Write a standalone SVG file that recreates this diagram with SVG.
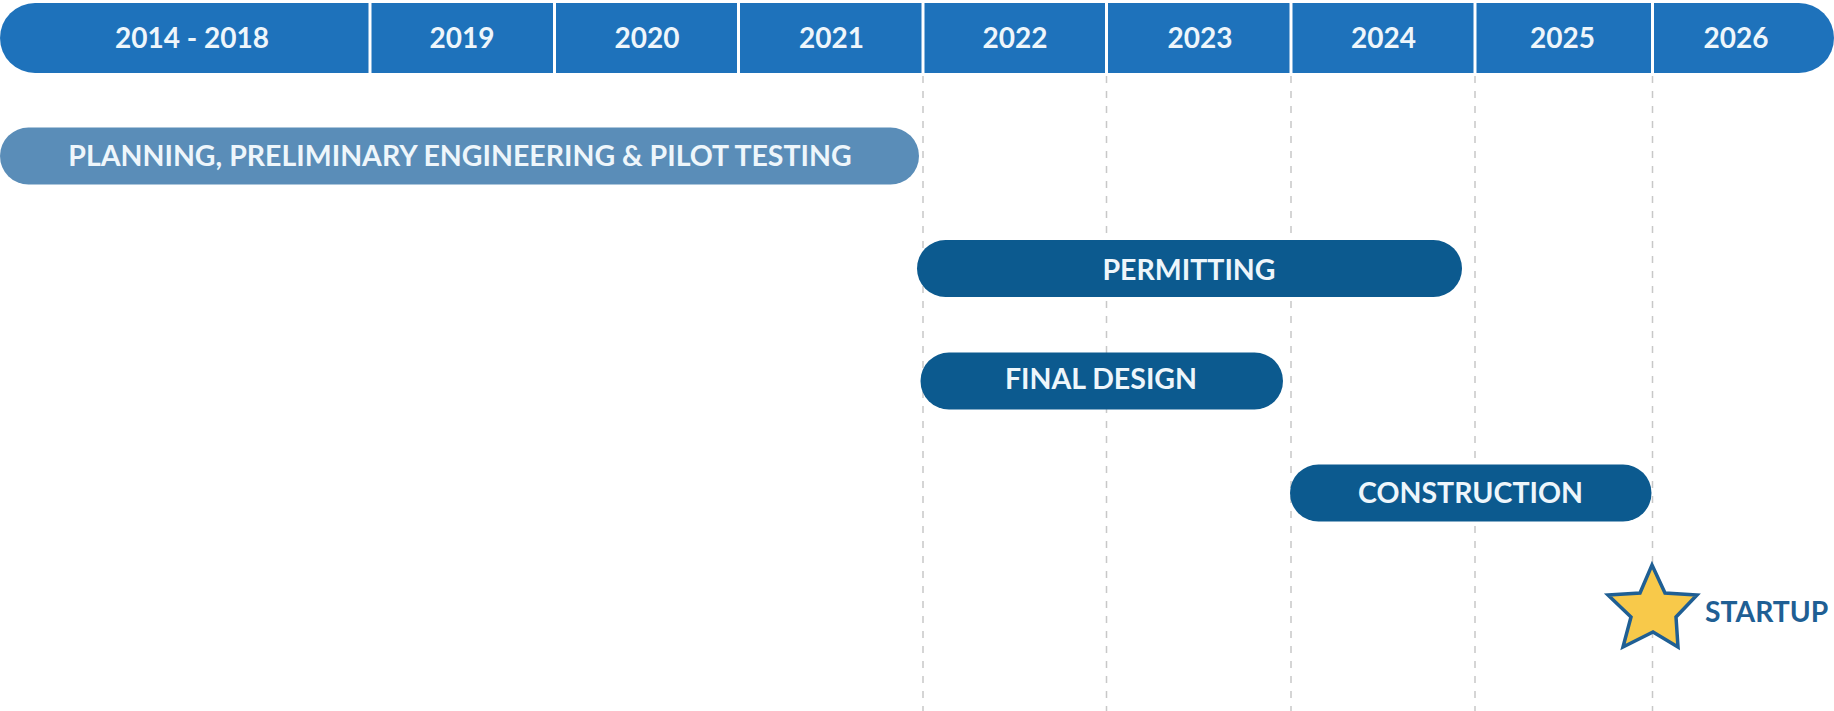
<svg xmlns="http://www.w3.org/2000/svg" width="1834" height="711" viewBox="0 0 1834 711">
<style>
.yr{font-family:Lato,"Liberation Sans",sans-serif;font-weight:bold;font-size:28px;fill:#eef6fb;text-anchor:middle}
.bl{font-family:Lato,"Liberation Sans",sans-serif;font-weight:bold;font-size:28.5px;fill:#eef6fb;text-anchor:middle}
.grid{stroke:#c8c8c8;stroke-width:1.5;stroke-dasharray:7 8;fill:none}
.div{stroke:#ffffff;stroke-width:3}
.task{fill:#0c5a8f}
</style>
<rect width="1834" height="711" fill="#ffffff"/>
<g id="connectors">
<line class="grid" x1="923" y1="76" x2="923" y2="711"/>
<line class="grid" x1="1106.5" y1="76" x2="1106.5" y2="711"/>
<line class="grid" x1="1291" y1="76" x2="1291" y2="711"/>
<line class="grid" x1="1475" y1="76" x2="1475" y2="711"/>
<line class="grid" x1="1652.5" y1="76" x2="1652.5" y2="711"/>
</g>
<g id="header">
<rect x="0" y="3" width="1834" height="70" rx="35" ry="35" fill="#1e72bb"/>
<line class="div" x1="370" y1="3" x2="370" y2="73"/>
<line class="div" x1="554.5" y1="3" x2="554.5" y2="73"/>
<line class="div" x1="738.5" y1="3" x2="738.5" y2="73"/>
<line class="div" x1="923" y1="3" x2="923" y2="73"/>
<line class="div" x1="1106.5" y1="3" x2="1106.5" y2="73"/>
<line class="div" x1="1291" y1="3" x2="1291" y2="73"/>
<line class="div" x1="1475" y1="3" x2="1475" y2="73"/>
<line class="div" x1="1652.5" y1="3" x2="1652.5" y2="73"/>
<text class="yr" x="192" y="47.5">2014 - 2018</text>
<text class="yr" x="462" y="47.5">2019</text>
<text class="yr" x="647" y="47.5">2020</text>
<text class="yr" x="831.5" y="47.5">2021</text>
<text class="yr" x="1015" y="47.5">2022</text>
<text class="yr" x="1200" y="47.5">2023</text>
<text class="yr" x="1383.5" y="47.5">2024</text>
<text class="yr" x="1562.5" y="47.5">2025</text>
<text class="yr" x="1736" y="47.5">2026</text>
</g>
<g id="planning">
<rect x="0" y="127.5" width="919" height="57" rx="28.5" ry="28.5" fill="#5a8db8"/>
<text class="bl" x="460" y="166">PLANNING, PRELIMINARY ENGINEERING &amp; PILOT TESTING</text>
</g>
<g id="permitting">
<rect class="task" x="917" y="240" width="545" height="57" rx="28.5" ry="28.5"/>
<text class="bl" x="1189" y="279.5">PERMITTING</text>
</g>
<g id="final-design">
<rect class="task" x="920.5" y="352.5" width="362.5" height="57" rx="28.5" ry="28.5"/>
<text class="bl" x="1101" y="388.5">FINAL DESIGN</text>
</g>
<g id="construction">
<rect class="task" x="1290" y="464.5" width="361.5" height="57" rx="28.5" ry="28.5"/>
<text class="bl" x="1470.5" y="503">CONSTRUCTION</text>
</g>
<g id="startup">
<polygon points="1652,565 1665,593 1697,595 1676,617 1678,647 1653,632 1623,647 1631,617 1608,595 1640,593" fill="#f8c94a" stroke="#1f5f94" stroke-width="3.5" stroke-linejoin="miter"/>
<text x="1705" y="622" font-family="Lato,'Liberation Sans',sans-serif" font-weight="bold" font-size="28.3" fill="#1f5f94">STARTUP</text>
</g>
</svg>
